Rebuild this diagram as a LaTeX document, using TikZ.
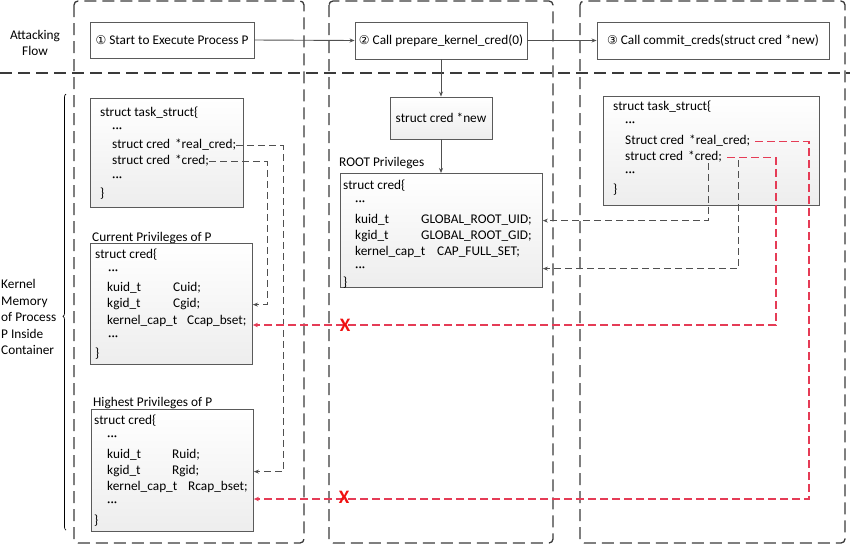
\documentclass[tikz,border=0pt]{standalone}
\usepackage{fontspec}
\setmainfont{Carlito}
\newfontfamily\circfont{DejaVu Sans}
\usetikzlibrary{arrows.meta,decorations.pathreplacing}
\definecolor{framegray}{HTML}{3A3A3A}
\definecolor{boxline}{HTML}{5A5A5A}
\definecolor{linkgray}{HTML}{505050}
\definecolor{linkred}{HTML}{E53C56}
\definecolor{crossred}{HTML}{F01010}
\newcommand{\num}[1]{{\circfont\fontsize{12}{12}\selectfont #1}}
\begin{document}
\begin{tikzpicture}[x=1pt,y=-1pt,
  every node/.style={font=\fontsize{13.3}{16}\selectfont, text=black},
  lane/.style={draw=framegray, line width=1.3pt, dash pattern=on 12pt off 6pt, rounded corners=4pt},
  card/.style={draw=boxline, line width=0.9pt, top color=white, bottom color=gray!14, rectangle, inner sep=0pt, anchor=north west},
  flowbox/.style={draw=boxline, line width=0.9pt, fill=white, rectangle, inner sep=0pt},
  txt/.style={anchor=base west, inner sep=0pt},
  flow/.style={draw=linkgray, line width=0.9pt, -{Stealth[length=5pt,width=4pt]}},
  link/.style={draw=linkgray, line width=0.9pt, dash pattern=on 7pt off 4pt, -{Stealth[length=5pt,width=4pt]}},
  redlink/.style={draw=linkred, line width=1.5pt, dash pattern=on 8pt off 4pt, -{Stealth[length=5pt,width=4.5pt]}},
  cross/.style={text=crossred, inner sep=0pt, font=\fontsize{19}{19}\selectfont\bfseries},
]
\useasboundingbox (0,0) rectangle (850,547);

% swim lanes
\draw[lane] (74,1) rectangle (304,543);
\draw[lane] (329,1) rectangle (553,543);
\draw[lane] (580,1) rectangle (845,543);
\draw[lane] (0,73) -- (850,73);

% left labels
\node[align=center] (flowlbl) at (35,43) {Attacking\\Flow};
\node[align=left, anchor=west, inner sep=0pt, font=\fontsize{13.3}{16.5}\selectfont] (memlbl) at (1,317)
  {Kernel\\Memory\\of Process\\P Inside\\Container};
\draw[black, line width=0.7pt, decorate, decoration={brace, amplitude=3pt, aspect=0.49}] (66,530) -- (66,94);

% attacking flow
\node[flowbox, minimum width=164pt, minimum height=36pt] (s1) at (172,40) {\num{①} Start to Execute Process P};
\node[flowbox, minimum width=172pt, minimum height=37pt] (s2) at (441,40.5) {\num{②} Call prepare\_kernel\_cred(0)};
\node[flowbox, minimum width=232pt, minimum height=37pt] (s3) at (713,40.5) {\num{③} Call commit\_creds(struct cred *new)};
\draw[flow] (s1.east) -- (s2.west);
\draw[flow] (s2.east) -- (s3.west);

% left column: task_struct
\node[card, minimum width=153pt, minimum height=109pt] (lt) at (90,98) {};
\node[txt] (lt1) at (100,116) {struct task\_struct\{};
\node[txt] (lt2) at (112,132) {···};
\node[txt] (lt3) at (112,148) {struct cred\hspace{2pt} *real\_cred;};
\node[txt] (lt4) at (112,164) {struct cred\hspace{2pt} *cred;};
\node[txt] (lt5) at (112,181) {···};
\node[txt] (lt6) at (100,197) {\}};

% current privileges
\node[txt] (curlbl) at (92,241) {Current Privileges of P};
\node[card, minimum width=162pt, minimum height=121pt] (cb) at (90,243) {};
\node[txt] (c1) at (95,258) {struct cred\{};
\node[txt] (c2) at (108,274) {···};
\node[txt] (c3) at (107,291) {kuid\_t};
\node[txt] (c3v) at (173,291) {Cuid;};
\node[txt] (c4) at (107,307) {kgid\_t};
\node[txt] (c4v) at (173,307) {Cgid;};
\node[txt] (c5) at (107,324) {kernel\_cap\_t};
\node[txt] (c5v) at (187,324) {Ccap\_bset;};
\node[txt] (c6) at (108,340) {···};
\node[txt] (c7) at (95,357) {\}};

% highest privileges
\node[txt] (hilbl) at (93,406) {Highest Privileges of P};
\node[card, minimum width=162pt, minimum height=122pt] (hb) at (91,409) {};
\node[txt] (h1) at (94,424) {struct cred\{};
\node[txt] (h2) at (107,440) {···};
\node[txt] (h3) at (107,458) {kuid\_t};
\node[txt] (h3v) at (172,458) {Ruid;};
\node[txt] (h4) at (107,474) {kgid\_t};
\node[txt] (h4v) at (172,474) {Rgid;};
\node[txt] (h5) at (107,490) {kernel\_cap\_t};
\node[txt] (h5v) at (188,490) {Rcap\_bset;};
\node[txt] (h6) at (107,506) {···};
\node[txt] (h7) at (94,524) {\}};

% middle column
\node[card, anchor=center, minimum width=102pt, minimum height=42pt] (newp) at (441,118) {struct cred *new};
\node[txt] (rootlbl) at (339,166) {ROOT Privileges};
\node[card, minimum width=202pt, minimum height=114pt] (rb) at (340,173) {};
\node[txt] (r1) at (343,189) {struct cred\{};
\node[txt] (r2) at (355,205) {···};
\node[txt] (r3) at (355,223) {kuid\_t};
\node[txt] (r3v) at (421,223) {GLOBAL\_ROOT\_UID;};
\node[txt] (r4) at (355,239) {kgid\_t};
\node[txt] (r4v) at (421,239) {GLOBAL\_ROOT\_GID;};
\node[txt] (r5) at (355,255) {kernel\_cap\_t};
\node[txt] (r5v) at (437,255) {CAP\_FULL\_SET;};
\node[txt] (r6) at (355,271) {···};
\node[txt] (r7) at (343,286) {\}};
\draw[flow] (s2.south) -- (newp.north);
\draw[flow] (newp.south) -- (newp.south |- rb.north);

% right column: task_struct after commit
\node[card, minimum width=216pt, minimum height=109pt] (rt) at (603,96) {};
\node[txt] (rt1) at (613,110) {struct task\_struct\{};
\node[txt] (rt2) at (625,126) {···};
\node[txt] (rt3) at (625,144) {Struct cred\hspace{2pt} *real\_cred;};
\node[txt] (rt4) at (625,160) {struct cred\hspace{2pt} *cred;};
\node[txt] (rt5) at (625,176) {···};
\node[txt] (rt6) at (613,193) {\}};

% bend points of the pointer links
\coordinate (bendA) at (283,144);
\coordinate (bendB) at (267,160);
\coordinate (bendC) at (708,163);
\coordinate (bendD) at (738,160);
\coordinate (redA) at (776,325);
\coordinate (redB) at (809,499);

% original pointers of P
\draw[link] (lt3.mid east) -- (lt3.mid east -| bendA) |- (hb.east |- h4.mid);
\draw[link] (lt4.mid east) -- (lt4.mid east -| bendB) |- (cb.east |- c4.mid);

% pointers after commit_creds
\draw[link] (bendC) |- (rb.east |- r3.mid);
\draw[link] (bendD) |- (rb.east |- r6.mid);

% blocked paths
\draw[redlink] ([xshift=5pt]rt4.mid east) -| (redA) -- (redA -| cb.east);
\draw[redlink] ([xshift=5pt]rt3.mid east) -| (redB) -- (redB -| hb.east);
\node[cross] (x1) at (345,325) {X};
\node[cross] (x2) at (344,497) {X};
\end{tikzpicture}
\end{document}
